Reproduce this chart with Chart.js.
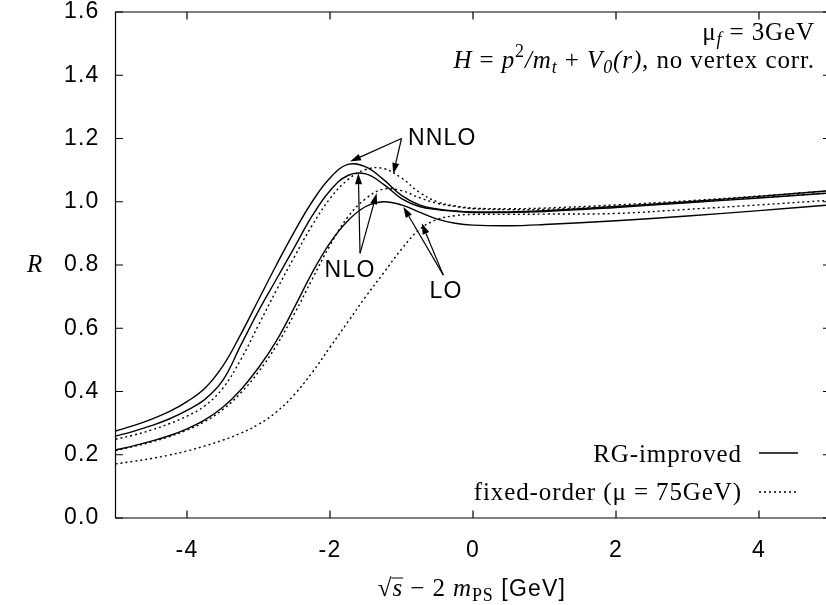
<!DOCTYPE html>
<html><head><meta charset="utf-8">
<script src="https://cdn.jsdelivr.net/npm/chart.js@4.4.1/dist/chart.umd.min.js"></script>
<style>html,body{margin:0;padding:0;background:#fff}#wrap{width:826px;height:605px;position:relative}</style>
</head><body><div id="wrap"><canvas id="c" width="826" height="605"></canvas></div>
<script>
// ---- data ----
const xValues = [-5,-4.75,-4.5,-4.25,-4,-3.75,-3.5,-3.25,-3,-2.75,-2.5,-2.25,-2,-1.75,-1.5,-1.25,-1,-0.75,-0.5,-0.25,0,0.5,1,2,3,4,5];
const rgNNLO = [0.275,0.292,0.312,0.336,0.368,0.41,0.48,0.58,0.69,0.80,0.905,1.0,1.075,1.118,1.11,1.07,1.02,0.99,0.977,0.971,0.968,0.968,0.972,0.985,1.0,1.017,1.035];
const rgNLO  = [0.259,0.274,0.292,0.313,0.34,0.375,0.435,0.545,0.655,0.755,0.855,0.955,1.035,1.083,1.088,1.055,1.01,0.985,0.975,0.97,0.966,0.966,0.969,0.982,0.997,1.012,1.028];
const rgLO   = [0.215,0.228,0.243,0.26,0.282,0.31,0.35,0.405,0.475,0.56,0.665,0.775,0.87,0.94,0.985,1.0,0.99,0.967,0.945,0.932,0.926,0.924,0.928,0.94,0.955,0.972,0.99];
const foNNLO = [0.249,0.262,0.278,0.298,0.322,0.355,0.41,0.50,0.61,0.72,0.825,0.925,1.01,1.07,1.102,1.105,1.075,1.03,1.0,0.987,0.98,0.978,0.98,0.99,1.003,1.018,1.035];
const foNLO  = [0.213,0.226,0.24,0.257,0.278,0.305,0.343,0.395,0.462,0.545,0.645,0.755,0.862,0.952,1.01,1.04,1.035,1.013,0.995,0.985,0.978,0.975,0.976,0.985,0.998,1.013,1.028];
const foLO   = [0.171,0.179,0.188,0.199,0.212,0.228,0.246,0.268,0.296,0.335,0.39,0.46,0.54,0.62,0.70,0.775,0.85,0.912,0.944,0.956,0.96,0.96,0.961,0.963,0.976,0.99,1.005];
const xTicks = [-4,-2,0,2,4];
const yTicks = [0,0.2,0.4,0.6,0.8,1.0,1.2,1.4,1.6];

// annotation arrows (data coordinates): label, label position, arrow tail, arrow heads
const annotations = [
  {label:'NNLO', align:'left',   at:[-0.91,1.2],   tail:[-1.0,1.2],    heads:[[-1.72,1.127],[-1.115,1.088]]},
  {label:'NLO',  align:'center', at:[-1.72,0.781], tail:[-1.58,0.837], heads:[[-1.604,1.09],[-1.347,1.027]]},
  {label:'LO',   align:'center', at:[-0.378,0.715],tail:[-0.415,0.768],heads:[[-0.975,0.984],[-0.717,0.932]]}
];

const pts = arr => xValues.map((x,i)=>({x:x, y:arr[i]}));
const solid = {borderColor:'#000', borderWidth:1.4, pointRadius:0, tension:0.4, fill:false};
const dotted = Object.assign({}, solid, {borderDash:[2,3], borderWidth:1.4});

const SERIF = '"Liberation Serif","Times New Roman",serif';
const SANS = '"Liberation Sans",Arial,sans-serif';
const SERIF_LS = '0.9px', SANS_LS = '1.2px';

function runsWidth(ctx, runs){ let w=0; runs.forEach(r=>{ctx.font=r.f; ctx.letterSpacing=r.ls||SERIF_LS; r.w=ctx.measureText(r.t).width; w+=r.w;}); return w; }
function drawRuns(ctx, runs, x, y, align){
  const w = runsWidth(ctx, runs);
  let cx = align==='right'? x-w : align==='center'? x-w/2 : x;
  runs.forEach(r=>{
    ctx.font=r.f; ctx.letterSpacing=r.ls||SERIF_LS; ctx.fillText(r.t, cx, y+(r.dy||0));
    if(r.over){ ctx.beginPath(); ctx.lineWidth=1; ctx.moveTo(cx-1, y+r.over); ctx.lineTo(cx+r.w, y+r.over); ctx.stroke(); }
    cx+=r.w;
  });
}
function arrow(ctx, x0,y0,x1,y1){
  const a=Math.atan2(y1-y0,x1-x0), L=11, W=3.5;
  const bx=x1-L*Math.cos(a), by=y1-L*Math.sin(a);
  ctx.beginPath(); ctx.lineWidth=1.2; ctx.moveTo(x0,y0); ctx.lineTo(bx,by); ctx.stroke();
  ctx.beginPath(); ctx.moveTo(x1,y1);
  ctx.lineTo(bx+W*Math.sin(a), by-W*Math.cos(a));
  ctx.lineTo(bx-W*Math.sin(a), by+W*Math.cos(a));
  ctx.closePath(); ctx.fill();
}

const spacing = {
  id:'spacing',
  beforeInit(chart){ chart.ctx.letterSpacing = SANS_LS; },
  beforeUpdate(chart){ chart.ctx.letterSpacing = SANS_LS; },
  beforeDraw(chart){ chart.ctx.letterSpacing = SANS_LS; }
};

const frame = {
  id:'frame',
  afterDatasetsDraw(chart){
    const {ctx, chartArea:a, scales:{x, y}} = chart;
    ctx.save();
    ctx.strokeStyle='#000'; ctx.fillStyle='#000'; ctx.lineWidth=1.2;
    const R = x.getPixelForValue(5);
    // border
    ctx.beginPath(); ctx.moveTo(R, a.top); ctx.lineTo(a.left, a.top); ctx.lineTo(a.left, a.bottom); ctx.lineTo(R, a.bottom); ctx.lineTo(R, a.top); ctx.stroke();
    // inward ticks
    const tl=7.5;
    xTicks.forEach(v=>{ const px=x.getPixelForValue(v);
      ctx.beginPath(); ctx.moveTo(px,a.bottom); ctx.lineTo(px,a.bottom-tl); ctx.moveTo(px,a.top); ctx.lineTo(px,a.top+tl); ctx.stroke(); });
    yTicks.forEach(v=>{ const py=y.getPixelForValue(v);
      ctx.beginPath(); ctx.moveTo(a.left,py); ctx.lineTo(a.left+tl,py); ctx.moveTo(R,py); ctx.lineTo(R-tl,py); ctx.stroke(); });
    // annotations
    ctx.textBaseline='middle';
    annotations.forEach(an=>{
      const tx=x.getPixelForValue(an.tail[0]), ty=y.getPixelForValue(an.tail[1]);
      an.heads.forEach(h=>arrow(ctx, tx, ty, x.getPixelForValue(h[0]), y.getPixelForValue(h[1])));
      ctx.font='23px '+SANS; ctx.letterSpacing=SANS_LS; ctx.textAlign=an.align;
      ctx.fillText(an.label, x.getPixelForValue(an.at[0]), y.getPixelForValue(an.at[1]));
    });
    // top-right labels
    ctx.textAlign='left'; ctx.textBaseline='alphabetic';
    const rm = 'px '+SERIF, it='italic ';
    drawRuns(ctx, [{t:'\u03bc',f:'25'+rm},{t:'f',f:it+'18'+rm,dy:5},{t:' = 3GeV',f:'25'+rm}], 815, 39.5, 'right');
    drawRuns(ctx, [{t:'H',f:it+'25'+rm},{t:' = ',f:'25'+rm},{t:'p',f:it+'25'+rm},{t:'2',f:'18'+rm,dy:-11},
                   {t:'/m',f:it+'25'+rm},{t:'t',f:it+'18'+rm,dy:5},{t:' + ',f:'25'+rm},{t:'V',f:it+'25'+rm},
                   {t:'0',f:it+'18'+rm,dy:5},{t:'(r)',f:it+'25'+rm},{t:', no vertex corr.',f:'25'+rm}], 815, 68, 'right');
    // legend
    drawRuns(ctx, [{t:'RG-improved',f:'25'+rm}], 742, 462, 'right');
    drawRuns(ctx, [{t:'fixed-order (\u03bc = 75GeV)',f:'25'+rm}], 742, 500, 'right');
    ctx.lineWidth=1.4;
    ctx.beginPath(); ctx.moveTo(759,453); ctx.lineTo(798,453); ctx.stroke();
    ctx.setLineDash([2,3]); ctx.beginPath(); ctx.moveTo(759,492); ctx.lineTo(798,492); ctx.stroke(); ctx.setLineDash([]);
    // axis titles
    ctx.font=it+'25'+rm; ctx.textAlign='center'; ctx.textBaseline='middle';
    ctx.fillText('R', 35, 265);
    ctx.textAlign='left'; ctx.textBaseline='alphabetic';
    drawRuns(ctx, [{t:'\u221a',f:'25'+rm},{t:'s',f:it+'25'+rm,over:-18},{t:' \u2212 2 ',f:'25'+rm},{t:'m',f:it+'25'+rm},
                   {t:'PS',f:'18'+rm,dy:5},{t:' [GeV]',f:'23px '+SANS,ls:SANS_LS}], 472, 596, 'center');
    ctx.restore();
    ctx.letterSpacing = SANS_LS;
  }
};

new Chart(document.getElementById('c'), {
  type:'line',
  data:{datasets:[
    Object.assign({label:'RG NNLO', data:pts(rgNNLO)}, solid),
    Object.assign({label:'RG NLO', data:pts(rgNLO)}, solid),
    Object.assign({label:'RG LO', data:pts(rgLO)}, solid),
    Object.assign({label:'FO NNLO', data:pts(foNNLO)}, dotted),
    Object.assign({label:'FO NLO', data:pts(foNLO)}, dotted),
    Object.assign({label:'FO LO', data:pts(foLO)}, dotted)
  ]},
  options:{
    responsive:false, animation:false, devicePixelRatio:1,
    layout:{padding:{top:12,right:0,left:0,bottom:0}},
    plugins:{legend:{display:false}, tooltip:{enabled:false}},
    scales:{
      x:{type:'linear', min:-5, max:4.937,
        afterFit:s=>{s.height=87; s.paddingLeft=0; s.paddingRight=0;},
        afterBuildTicks:s=>{s.ticks=xTicks.map(v=>({value:v}));},
        grid:{display:false, drawTicks:false}, border:{display:false},
        ticks:{color:'#000', font:{family:'"Liberation Sans",Arial,sans-serif', size:23}, padding:19, maxRotation:0, autoSkip:false}},
      y:{type:'linear', min:0, max:1.6,
        afterFit:s=>{s.width=115.5; s.paddingTop=0; s.paddingBottom=0;},
        afterBuildTicks:s=>{s.ticks=yTicks.map(v=>({value:v}));},
        grid:{display:false, drawTicks:false}, border:{display:false},
        ticks:{color:'#000', font:{family:'"Liberation Sans",Arial,sans-serif', size:23}, padding:16, autoSkip:false, callback:v=>v.toFixed(1)}}
    }
  },
  plugins:[spacing, frame]
});
</script></body></html>
